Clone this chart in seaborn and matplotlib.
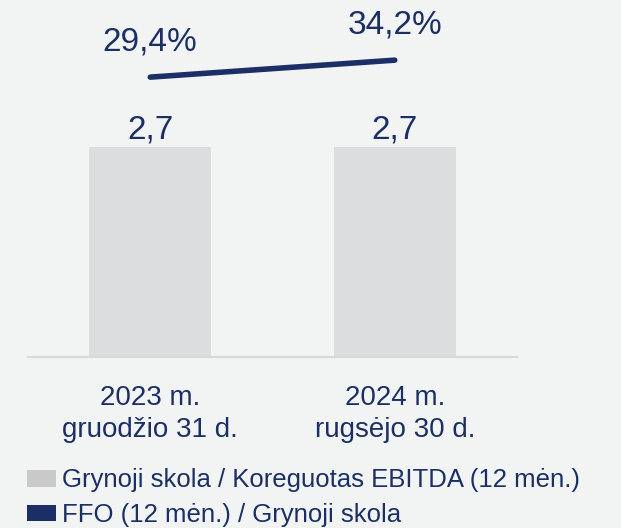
import numpy as np
import pandas as pd
import seaborn as sns
import matplotlib.pyplot as plt
from matplotlib.patches import Patch

# %% data
periods = ['2023 m.\ngruodžio 31 d.', '2024 m.\nrugsėjo 30 d.']
debt_ebitda = [2.7, 2.7]
ffo_debt = [29.4, 34.2]
bar_labels = ['2,7', '2,7']
line_labels = ['29,4%', '34,2%']
legend_labels = ['Grynoji skola / Koreguotas EBITDA (12 mėn.)',
                 'FFO (12 mėn.) / Grynoji skola']

BG = '#f2f4f4'
BAR = '#dcdddf'
NAVY = '#1b2f66'

sns.set_theme(style='white')
plt.rcParams['font.family'] = ['Liberation Sans', 'DejaVu Sans']

df = pd.DataFrame({'period': periods, 'ratio': debt_ebitda, 'ffo': ffo_debt})

fig = plt.figure(figsize=(6.21, 5.28), dpi=100, facecolor=BG)
ax = fig.add_axes([28/621, 1 - 357/528, 489/621, 357/528])
ax.set_facecolor(BG)

sns.barplot(data=df, x='period', y='ratio', color=BAR, width=0.5,
            saturation=1, linewidth=0, ax=ax)
ax.set_xlim(-0.5, 1.5)
ax.set_ylim(0, 4.59)
for i, lab in enumerate(bar_labels):
    ax.annotate(lab, (i, debt_ebitda[i]), xytext=(0, 1), textcoords='offset points',
                ha='center', va='bottom', fontsize=24, color=NAVY)

ax2 = ax.twinx()
x_pos = np.arange(len(periods))
sns.lineplot(x=x_pos, y=ffo_debt, color=NAVY, linewidth=4, ax=ax2,
             solid_capstyle='round')
ax2.set_ylim(-49.7, 51.2)
for i, lab in enumerate(line_labels):
    ax2.annotate(lab, (x_pos[i], ffo_debt[i]), xytext=(0, 14), textcoords='offset points',
                 ha='center', va='bottom', fontsize=24, color=NAVY)

for a in (ax, ax2):
    for s in ['top', 'right', 'left']:
        a.spines[s].set_visible(False)
    a.set_yticks([])
    a.set_ylabel('')
ax2.spines['bottom'].set_visible(False)
ax.spines['bottom'].set_color('#d6d8d9')
ax.spines['bottom'].set_linewidth(1.5)
ax.set_xlabel('')
ax.tick_params(axis='x', length=0, pad=20, labelsize=20, labelcolor=NAVY)
for t in ax.get_xticklabels():
    t.set_linespacing(1.3)

handles = [Patch(facecolor='#c9c9c9', edgecolor='none'),
           Patch(facecolor=NAVY, edgecolor='none')]
fig.legend(handles, legend_labels, loc='lower left', bbox_to_anchor=(14/621, -0.022),
           frameon=False, fontsize=18.5, labelcolor=NAVY, handlelength=1.15,
           handleheight=0.6, handletextpad=0.2, labelspacing=0.4, borderpad=0)

fig.savefig('out.png', dpi=100, facecolor=BG)
